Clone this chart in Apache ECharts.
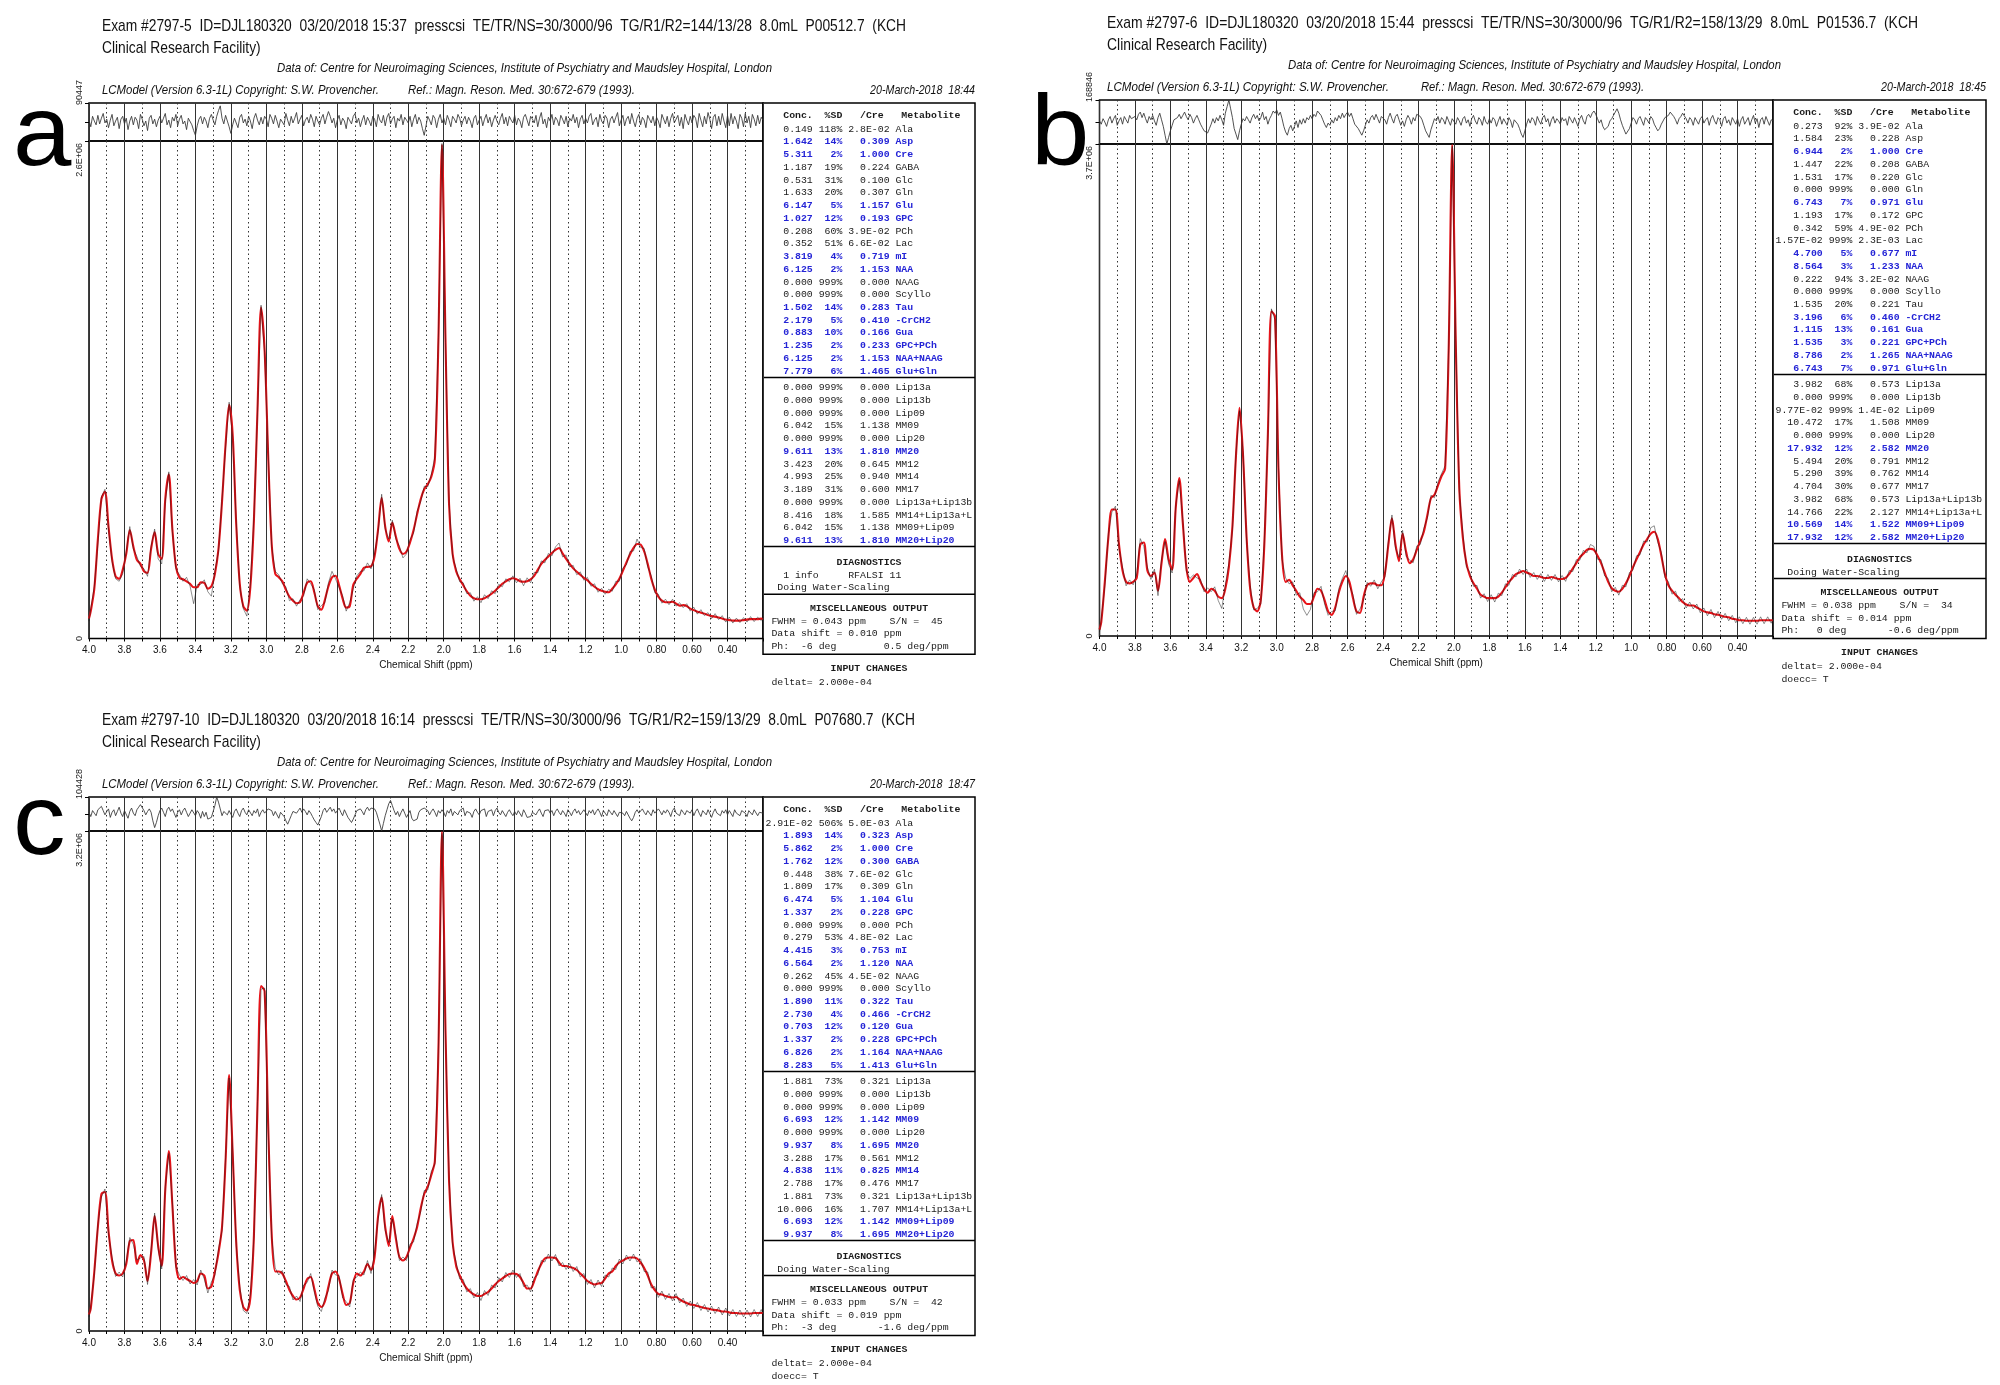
<!DOCTYPE html>
<html><head><meta charset="utf-8">
<script src="https://cdn.jsdelivr.net/npm/echarts@6/dist/echarts.min.js"></script>
<style>html,body{margin:0;padding:0;background:#fff}#c{width:2000px;height:1385px}</style>
</head><body><div id="c"></div>
<script>
// ---------- sampling grids (ppm) ----------
const ppmGrid = (function(){ const a=[4.00]; for(let i=0;i<190;i++) a.push(+(3.99-0.02*i).toFixed(2)); a.push(0.20); return a; })();
const ppmResid = (function(){ const a=[]; for(let i=0;i<=380;i++) a.push(+(4.00-0.01*i).toFixed(2)); return a; })();
const xTickLabels = ['4.0','3.8','3.6','3.4','3.2','3.0','2.8','2.6','2.4','2.2','2.0','1.8','1.6','1.4','1.2','1.0','0.80','0.60','0.40'];

// ---------- spectra, % of full scale (a: 2.6E+06, b: 3.7E+06, c: 3.2E+06) ----------
const fitA = [
4,5.5,10,20,28,29.5,22.5,16,12.5,12,
13.8,17,21.8,18.5,15.8,15,13.5,13.2,18,21.4,
17,16,28,33,22,14.5,12.2,11.9,11.5,11,
10.3,10.3,11.3,11.2,10,10.5,13,18,27.5,39,
47,41,23,11,6.5,5.6,10.5,24,46,66.5,
58,37,19,13,12.3,11.5,9.8,8.4,7.6,7.1,
7.3,9.2,11.2,11.5,9.3,6.5,5.8,7.8,10.5,12.3,
12.6,10.7,8,6.2,6.5,10.8,12,13,14.2,14.4,
14.5,16.5,22,28.3,22.5,19.5,23.3,20.5,18,17,
17.5,19.3,21.8,25,28,30,31,32.5,36,60,
99.2,60,27,17,13.5,11.9,10.7,9.5,8.6,8.1,
7.9,7.9,8.1,8.5,9,9.6,10.3,11,11.5,11.9,
12.1,11.9,11.5,11.4,11.5,11.9,12.6,13.8,15,15.8,
16.5,17.2,17.8,18.2,17.1,16,15,14.1,13.4,12.8,
12.2,11.7,11,10.4,9.9,9.6,9.4,9.3,10,10.9,
12,13.6,15.3,16.9,18.2,19,18.9,17.5,15,12,
9.8,8.4,7.6,7.3,7.3,7.4,7,6.6,6.7,6.5,
6,5.7,5.4,5.2,5,4.7,4.5,4.4,4.2,4,
3.8,3.7,3.6,3.6,3.6,3.7,3.8,3.9,3.9,3.9,
4,3.9];
const dataA = [
3.5,6,10.5,19,28.5,30,22,15.5,12,11.5,
13,17.5,22.5,18,16.5,14.5,14,12.5,18.5,22,
16,15,27.5,33.5,21.5,14,12.8,11.5,12.3,10.5,
7,10.8,10.9,11.8,9.4,8.5,13.6,17.5,28,38.5,
47.5,40.5,23.5,10.5,6,4.5,11,24.5,45.5,67,
57.5,37.5,18.5,13.5,12.8,11,10.4,7.6,8,6.5,
7.8,8.6,12,11,9.8,5.8,6.6,7.2,11.2,13.5,
12,10.2,8.6,5.5,7.2,10,12.6,13.5,13.6,15.2,
14,17,21.5,29,22,20,23.8,20,18.6,16.2,
17,19.9,21.2,25.6,27.5,30.6,30.5,33,36.5,60.5,
99.5,59.5,27.5,16.5,14,11.4,11.2,9,9.2,7.5,
8.4,7.2,8.8,8,9.6,9,10.9,10.4,12,11.4,
12.6,11.2,12.1,10.6,12.2,11.2,13.3,13.2,15.6,15.2,
17.1,16.6,18.4,19.2,16.4,16.8,14.4,14.7,12.8,13.4,
11.7,12.3,10.5,11,9.3,10.1,8.9,9.9,9.5,11.5,
11.5,14.2,14.8,17.5,17.6,20,18.3,18.1,14.4,12.6,
9.2,8.9,7.1,7.9,6.8,7.9,6.5,7.2,6.2,7,
5.5,6.3,4.9,5.8,4.6,5.2,4,5,3.8,4.6,
3.3,4.3,3.1,4.1,3.2,4.2,3.3,4.4,3.4,4.3,
3.6,4.2];
const fitB = [
1.3,2.8,11,20,25.7,25.7,18.6,13.3,11,10.7,
11,11.8,18.6,19,13.3,12.2,12.9,9.2,14.8,19.7,
15.6,13.5,26,32.1,23,14,11,11.8,12.6,11,
9.6,8.8,9.6,9.2,8,7.7,9.6,14,22.3,36.6,
46.4,36.6,20,9.6,5.8,5,7.3,18.6,41,66,
65,33.6,16.3,11,11.4,10.3,9.2,8,7.3,6.5,
6.5,8,9.6,9.2,7.3,5,4.3,5.8,8.8,11,
12.2,11,7.7,5,4.7,8,10.3,10.7,10.7,10.3,
10.3,12.6,18.6,23.9,18.6,15.2,20.8,17.1,14.8,15.6,
17.5,19.3,21.2,24.6,28,28.7,30.6,32.5,34,58,
99.8,60,30,20,14.8,12.2,10.7,9.6,8.4,8,
7.7,7.7,7.7,8,8.8,9.9,11,11.8,12.6,12.9,
13.2,12.9,12.6,12.2,12.2,12,11.8,11.8,12,11.8,
11.6,11.6,11.8,12.6,13.7,14.8,16,16.7,17.5,17.7,
17.5,16.3,14.8,12.9,11,9.7,9.2,9,9.6,10.7,
12.2,14,15.6,17.1,18.6,19.7,20.8,21.2,19.7,16.3,
12.6,10.3,9.2,8.4,7.7,6.9,6.4,6.2,6.2,5.8,
5.4,5,4.8,4.7,4.4,4.3,4.1,3.9,3.8,3.5,
3.4,3.2,3.2,3.1,3.1,3.1,3.1,3.2,3.2,3.2,
3.2,3.2];
const dataB = [
0.8,3.4,10.2,20.8,25.2,26.4,17.9,13.9,10.2,11.4,
10.4,12.6,19.8,18.2,14,11.5,13.6,8.2,15.6,19.2,
14.6,12.8,26.5,31.6,23.6,13.2,11.7,12.4,11.8,11.5,
9,9.8,9,10,7.2,5.6,10.4,14.8,21.6,37.2,
45.8,37.4,19.3,10.3,5.3,5.6,6.5,19.4,40.4,66.5,
64.3,34.2,15.6,11.8,10.6,11,8.3,8.8,5.5,4.2,
5.4,8.8,9,10.1,6.5,4.2,5,5.1,9.6,11.7,
13.3,10.2,8.4,4.4,5.5,7.3,10.9,10.1,11.4,9.6,
11,12,19.4,24.6,17.8,16,21.5,16.2,15.4,14.9,
18.3,18.6,21.9,24,28.6,28.1,31.3,33,34.6,58.5,
99.5,60.5,29.4,20.8,14.1,12.9,10.1,10.3,7.7,8.6,
7,8.4,6.9,8.7,8.2,10.6,10.3,12.5,12,13.6,
12.5,13.6,11.9,12.9,11.5,12.7,11.1,12.5,11.3,12.5,
11,12.3,11.1,13.3,13.1,15.5,15.4,17.4,16.9,18.6,
18.2,15.6,15.5,12.2,11.7,9,9.9,8.3,10.3,10,
12.9,13.4,16.3,16.5,19.3,19.1,22,22.4,19,17,
11.9,11,8.5,9.1,7,7.6,5.7,6.9,5.5,6.5,
4.7,5.7,4.1,5.4,3.7,5,3.4,4.6,3.1,4.2,
2.7,3.9,2.5,3.8,2.4,3.8,2.4,3.9,2.5,3.9,
2.6,3.7];
const fitC = [
3.3,4.5,11.9,20.8,27.4,27.8,20,14.1,11.5,11.1,
11.5,13.4,18,18.2,13.4,15.2,14.1,10,15.6,23,
17,13,28.2,36,25.2,13.4,10.4,10.8,10.4,10,
9.6,10,11.5,11.1,8.5,8.9,11.9,15.6,20.8,34.1,
51.2,35.6,17.8,8.2,4.8,4.1,6.7,19.3,45.3,69,
68,41.5,19.3,11.9,11.9,11.5,10,8.2,7,6.3,
6.7,8.5,10.4,10.8,8.5,5.6,4.8,5.9,8.9,11.5,
11.9,10.4,7.4,5.2,5.6,9.6,11.5,11.1,11.9,13.4,
12.2,14.8,23,26.7,20.8,17,23,18.5,14.8,14.1,
14.8,16.7,18.5,20.8,24.5,27.4,28.9,31.2,34,56,
99.8,60,30,17.8,13,11.1,9.6,8.5,7.8,7.3,
7,7,7.4,7.8,8.5,9.3,10,10.5,11,11.4,
11.5,11.4,10.8,9.6,8.5,8.5,10,11.9,13.4,14.5,
14.7,14.7,14.6,13.7,13,13,12.8,12.6,12.2,11.5,
10.8,10,9.6,9.3,9.5,9.6,10.5,11.5,11.9,13,
13.7,14.1,14.5,14.7,14.7,14.5,13.7,12.6,11.1,9.3,
8.2,7.4,7.3,7,6.8,6.7,6.8,6.3,5.9,5.6,
5.3,5.2,5,4.8,4.6,4.5,4.3,4.2,4.1,3.9,
3.9,3.7,3.6,3.6,3.5,3.5,3.5,3.5,3.6,3.6,
3.6,3.6];
const dataC = [
2.8,5,11.4,21.3,26.8,28.4,19.4,14.7,10.9,11.8,
10.8,14,18.7,17.3,14.2,14.6,14.9,9.3,16.2,23.6,
16.4,12.4,28.9,35.5,25.8,12.8,11.2,10.1,11.1,9.4,
10.3,9.2,12.2,10.4,7.6,9.8,11.2,16.4,20.1,34.7,
50.6,36.2,17.1,8.9,4.1,3.5,7.4,18.7,45.9,68.4,
68.6,40.9,18.6,12.6,11.2,12.1,9.3,8.9,6.2,7,
5.9,9.2,9.7,11.5,7.8,4.9,3.9,6.6,8.1,12.2,
11.2,11.1,6.6,5.9,4.8,10.3,10.8,11.8,11.2,14.1,
11.5,15.5,22.4,27.3,20.1,17.7,22.4,19.2,14.1,14.8,
14.1,17.4,17.8,21.5,23.8,28.1,28.2,31.9,33.4,56.6,
99.5,59.4,30.6,17.1,13.7,10.4,10.3,7.8,8.5,6.6,
7.7,6.1,8.1,7.1,9.2,8.6,10.7,9.8,11.7,10.7,
12.2,10.7,11.5,8.9,9.2,7.8,10.7,11.2,14.1,13.8,
15.4,14,15.3,13,13.7,12.3,13.5,11.9,12.9,10.8,
11.5,9.3,10.3,8.6,10.2,8.9,11.2,10.8,12.6,12.3,
14.4,13.4,15.2,14,15.4,13.8,14.4,11.9,11.8,8.6,
8.9,6.7,8,6.3,7.5,6,7.5,5.6,6.6,4.9,
6,4.5,5.7,4.1,5.3,3.8,5,3.5,4.8,3.2,
4.6,3,4.3,2.9,4.2,2.8,4.2,2.8,4.3,2.9,
4.3,3.2];

// ---------- residuals, % of residual range (0.01 ppm steps, 4.00 -> 0.20) ----------
const residA = [
10,-25,30,5,-15,35,-10,20,45,-5,15,-30,10,40,-20,5,25,-35,15,30,
-10,20,-40,5,30,-15,25,10,-35,40,15,-20,5,-45,20,35,-10,15,-25,10,
30,-5,20,45,-15,10,-30,25,5,40,-20,15,35,-10,5,-40,20,30,-15,-45,
-70,-20,15,30,-10,25,5,-30,20,40,10,-15,30,60,85,20,-10,35,5,-25,
-60,-15,20,10,-30,25,40,-5,15,-20,30,5,-35,20,45,10,-15,25,-10,30,
15,-25,40,20,-10,35,5,-30,15,25,-15,45,10,-20,30,-5,20,50,-10,15,
35,-20,10,25,-5,40,15,-25,30,5,-15,20,40,-10,25,55,30,-5,20,-30,
10,35,-15,20,5,-35,25,15,-10,30,45,-5,20,-25,10,35,-15,25,5,-20,
30,15,-25,40,10,-5,35,-20,25,45,-10,15,30,-30,20,5,40,-15,25,10,
-5,30,-25,15,40,-10,25,5,-35,-70,-20,30,10,-15,35,20,-30,15,40,-5,
20,-15,35,10,-25,30,15,-5,40,20,-20,10,30,-10,25,5,-30,20,35,-15,
10,30,-20,15,40,-5,25,-25,10,35,5,-15,20,45,-10,25,-20,30,10,-5,
35,-15,20,5,-30,25,40,10,-20,30,15,-5,35,-25,20,50,-10,15,-30,25,
5,40,-15,25,10,-20,35,15,-10,30,-25,20,5,40,-5,25,-30,15,35,-10,
20,-5,30,45,-15,10,25,-25,40,5,-10,35,20,-30,15,30,-5,25,50,-20,
10,35,-20,15,30,-10,45,5,-25,20,40,-15,25,10,-30,35,15,-5,30,-20,
25,5,-30,40,15,-10,30,-25,20,45,-5,15,35,-20,25,-35,40,10,-15,30,
-5,35,20,-30,45,10,-25,30,-10,50,15,-35,25,40,-20,30,-15,45,5,-30,
35,-20,45,-10,30,5,-35,40,20,-25,45,-5,30,-30,40,15,-20,35,-10,25,
10];
const residB = [
5,-10,15,0,-20,10,25,-5,15,30,-15,5,20,-10,25,10,-5,30,15,20,
25,10,35,45,20,40,15,-5,25,10,30,5,-15,20,40,10,-20,-60,-100,-70,
-40,-15,10,5,20,35,15,30,45,25,10,35,20,-5,15,30,10,-10,-25,-40,
-35,-50,-30,-10,15,-5,20,5,30,10,-15,40,70,100,60,20,-30,-55,-80,-40,
-10,15,5,25,10,-5,20,35,15,30,5,20,45,10,25,-10,15,30,50,40,
55,30,45,15,-20,-45,-60,-30,-15,-40,-20,5,-25,10,-10,15,-5,20,10,30,
15,35,25,50,55,30,10,-10,-25,-5,-15,10,-5,20,5,30,15,40,20,35,
45,25,40,15,-10,-5,-30,-45,-60,-40,-15,10,-5,20,30,10,35,15,-5,25,
30,10,-10,20,40,15,-5,25,35,10,-15,5,-20,10,30,15,-10,20,5,35,
40,25,10,-15,-40,-55,-70,-35,-10,15,5,25,-5,20,10,-10,25,5,-15,15,
10,-10,20,5,-15,15,25,-5,10,-20,15,30,5,-10,20,10,-15,25,0,-10,
15,-5,20,10,-20,5,25,-10,15,0,-15,20,5,-25,10,15,-10,-30,-55,-70,
-40,-10,15,-5,20,10,-15,25,5,-10,20,30,0,15,-20,10,25,-5,15,5,
-10,20,5,15,-15,25,10,-5,20,0,-20,15,30,5,-10,25,35,20,40,50,
35,15,-5,10,-20,-35,-40,-20,5,15,30,45,60,40,10,-15,-35,-55,-60,-30,
-5,20,10,-10,15,25,5,-15,20,10,-5,25,15,-10,-25,-40,-30,-10,5,20,
15,30,45,50,25,10,-10,15,25,40,35,15,-5,20,10,-15,20,5,-10,15,
25,-5,10,20,-15,15,30,5,-10,20,10,-20,15,25,-5,10,-15,20,5,-10,
15,-20,10,25,-10,5,20,-15,10,30,-5,15,-25,10,20,-10,25,5,-15,10,
5];
const residC = [
10,-15,20,5,-10,25,35,45,20,-5,15,30,-20,10,25,-10,15,40,5,-15,
20,10,-25,15,35,5,-10,25,40,55,45,20,-5,15,30,10,-40,-80,-50,-10,
20,35,10,-15,25,40,15,30,5,-20,10,25,-5,20,35,10,-15,5,25,15,
-10,20,5,-25,15,-15,10,-30,-40,-20,15,50,100,70,30,-10,15,25,-5,20,
10,-20,15,30,5,-15,20,35,10,-5,25,15,-10,20,5,30,-15,10,25,5,
15,30,40,20,-10,15,5,-25,10,20,-15,-40,-60,-35,-10,15,25,5,20,35,
10,30,15,-5,20,5,-15,-35,-50,-65,-40,-15,20,35,10,25,40,15,30,5,
20,35,10,-10,25,15,-20,-35,-50,-30,-5,20,10,30,15,-5,25,40,20,35,
45,30,10,-25,-60,-100,-55,-10,25,60,80,50,20,-5,15,-15,10,30,5,-20,
-10,20,-25,-40,-50,-30,10,25,15,35,40,20,-5,15,30,10,-15,20,5,25,
10,-15,20,5,30,-10,15,25,-5,20,10,35,-10,15,25,5,-20,15,30,10,
-5,20,10,30,-15,15,5,25,-10,20,35,10,-5,20,15,-15,10,25,5,-10,
15,-5,20,10,-15,25,5,-20,-30,-15,10,20,-5,15,30,5,-15,20,10,25,
5,20,-10,15,30,10,-5,20,5,-15,25,10,-10,15,30,5,20,-5,10,25,
15,-10,20,5,25,-5,15,30,10,-15,20,5,-10,25,10,-5,20,15,-15,10,
20,5,-10,15,-5,-25,-40,-20,10,25,5,15,30,10,-5,20,15,-10,25,5,
10,30,15,-5,20,5,25,10,-15,20,35,5,15,-10,25,10,-5,20,15,5,
25,-10,15,30,5,-15,20,10,-5,25,15,-20,10,30,5,15,-10,20,5,25,
-5,20,10,-15,25,5,15,-10,20,30,5,-15,20,10,-5,25,15,-10,10,20,
5];

// ---------- LCModel tables ----------
const metNames = ['Ala','Asp','Cre','GABA','Glc','Gln','Glu','GPC','PCh','Lac','mI','NAA','NAAG','Scyllo','Tau','-CrCH2','Gua','GPC+PCh','NAA+NAAG','Glu+Gln'];
const lipNames = ['Lip13a','Lip13b','Lip09','MM09','Lip20','MM20','MM12','MM14','MM17','Lip13a+Lip13b','MM14+Lip13a+L','MM09+Lip09','MM20+Lip20'];
const concA = ['0.149','1.642','5.311','1.187','0.531','1.633','6.147','1.027','0.208','0.352','3.819','6.125','0.000','0.000','1.502','2.179','0.883','1.235','6.125','7.779',
  '0.000','0.000','0.000','6.042','0.000','9.611','3.423','4.993','3.189','0.000','8.416','6.042','9.611'];
const sdA = ['118%','14%','2%','19%','31%','20%','5%','12%','60%','51%','4%','2%','999%','999%','14%','5%','10%','2%','2%','6%',
  '999%','999%','999%','15%','999%','13%','20%','25%','31%','999%','18%','15%','13%'];
const creA = ['2.8E-02','0.309','1.000','0.224','0.100','0.307','1.157','0.193','3.9E-02','6.6E-02','0.719','1.153','0.000','0.000','0.283','0.410','0.166','0.233','1.153','1.465',
  '0.000','0.000','0.000','1.138','0.000','1.810','0.645','0.940','0.600','0.000','1.585','1.138','1.810'];
const concB = ['0.273','1.584','6.944','1.447','1.531','0.000','6.743','1.193','0.342','1.57E-02','4.700','8.564','0.222','0.000','1.535','3.196','1.115','1.535','8.786','6.743',
  '3.982','0.000','9.77E-02','10.472','0.000','17.932','5.494','5.290','4.704','3.982','14.766','10.569','17.932'];
const sdB = ['92%','23%','2%','22%','17%','999%','7%','17%','59%','999%','5%','3%','94%','999%','20%','6%','13%','3%','2%','7%',
  '68%','999%','999%','17%','999%','12%','20%','39%','30%','68%','22%','14%','12%'];
const creB = ['3.9E-02','0.228','1.000','0.208','0.220','0.000','0.971','0.172','4.9E-02','2.3E-03','0.677','1.233','3.2E-02','0.000','0.221','0.460','0.161','0.221','1.265','0.971',
  '0.573','0.000','1.4E-02','1.508','0.000','2.582','0.791','0.762','0.677','0.573','2.127','1.522','2.582'];
const concC = ['2.91E-02','1.893','5.862','1.762','0.448','1.809','6.474','1.337','0.000','0.279','4.415','6.564','0.262','0.000','1.890','2.730','0.703','1.337','6.826','8.283',
  '1.881','0.000','0.000','6.693','0.000','9.937','3.288','4.838','2.788','1.881','10.006','6.693','9.937'];
const sdC = ['506%','14%','2%','12%','38%','17%','5%','2%','999%','53%','3%','2%','45%','999%','11%','4%','12%','2%','2%','5%',
  '73%','999%','999%','12%','999%','8%','17%','11%','17%','73%','16%','12%','8%'];
const creC = ['5.0E-03','0.323','1.000','0.300','7.6E-02','0.309','1.104','0.228','0.000','4.8E-02','0.753','1.120','4.5E-02','0.000','0.322','0.466','0.120','0.228','1.164','1.413',
  '0.321','0.000','0.000','1.142','0.000','1.695','0.561','0.825','0.476','0.321','1.707','1.142','1.695'];

const headA = 'Exam #2797-5  ID=DJL180320  03/20/2018 15:37  presscsi  TE/TR/NS=30/3000/96  TG/R1/R2=144/13/28  8.0mL  P00512.7  (KCH';
const headB = 'Exam #2797-6  ID=DJL180320  03/20/2018 15:44  presscsi  TE/TR/NS=30/3000/96  TG/R1/R2=158/13/29  8.0mL  P01536.7  (KCH';
const headC = 'Exam #2797-10  ID=DJL180320  03/20/2018 16:14  presscsi  TE/TR/NS=30/3000/96  TG/R1/R2=159/13/29  8.0mL  P07680.7  (KCH';
const head2 = 'Clinical Research Facility)';
const dataOf = 'Data of: Centre for Neuroimaging Sciences, Institute of Psychiatry and Maudsley Hospital, London';
const lcmText = 'LCModel (Version 6.3-1L) Copyright: S.W. Provencher.';
const refText = 'Ref.: Magn. Reson. Med. 30:672-679 (1993).';

// ---------- panel layout ----------
const panels = [
 {letter:'a', head:headA, date:'20-March-2018  18:44', fit:fitA, dat:dataA, res:residA, yTop:'2.6E+06', rTop:'90447',
  conc:concA, sd:sdA, cre:creA,
  diag:['   1 info     RFALSI 11','  Doing Water-Scaling'],
  misc:[' FWHM = 0.043 ppm    S/N =  45',' Data shift = 0.010 ppm',' Ph:  -6 deg        0.5 deg/ppm'],
  input:[' deltat= 2.000e-04'],
  L:89, R:763, rT:103, mT:141, B:638.5, tR:975, tT:103,
  hy:[26,48,68,90], l1:[102,906], l2x:102, d:[277,772], m:[102,379], r:[408,635], lx:13, ly:137},
 {letter:'b', head:headB, date:'20-March-2018  18:45', fit:fitB, dat:dataB, res:residB, yTop:'3.7E+06', rTop:'168846',
  conc:concB, sd:sdB, cre:creB,
  diag:['  Doing Water-Scaling'],
  misc:[' FWHM = 0.038 ppm    S/N =  34',' Data shift = 0.014 ppm',' Ph:   0 deg       -0.6 deg/ppm'],
  input:[' deltat= 2.000e-04',' doecc= T'],
  L:1099.5, R:1773, rT:100, mT:144, B:636, tR:1986, tT:100,
  hy:[23,45,65,87], l1:[1107,1918], l2x:1107, d:[1288,1781], m:[1107,1389], r:[1421,1644], lx:1031, ly:137},
 {letter:'c', head:headC, date:'20-March-2018  18:47', fit:fitC, dat:dataC, res:residC, yTop:'3.2E+06', rTop:'104428',
  conc:concC, sd:sdC, cre:creC,
  diag:['  Doing Water-Scaling'],
  misc:[' FWHM = 0.033 ppm    S/N =  42',' Data shift = 0.019 ppm',' Ph:  -3 deg       -1.6 deg/ppm'],
  input:[' deltat= 2.000e-04',' doecc= T'],
  L:89, R:763, rT:797, mT:831, B:1331, tR:975, tT:797,
  hy:[720,742,762,784], l1:[102,915], l2x:102, d:[277,772], m:[102,379], r:[408,635], lx:13, ly:826}
];

const SANS = '"Liberation Sans", Arial, sans-serif';
const MONO = '"Liberation Mono", "DejaVu Sans Mono", monospace';
const MONO_PX = 9.85;
const BLUE = '#2424d6', INK = '#1a1a1a';
const mctx = document.createElement('canvas').getContext('2d');
function measure(t, f){ mctx.font = f; return mctx.measureText(t).width; }
function padL(s,n){ s=String(s); while(s.length<n) s=' '+s; return s; }
function T(x,y,text,font,fill,align,extra,valign){
  const va = valign || 'middle';
  return Object.assign({type:'text', x:x, y:y, silent:true,
    style:{text:text, font:font, fill:fill||INK, textAlign:align||'left', align:align||'left', textVerticalAlign:va, verticalAlign:va}}, extra||{});
}
function Lh(x1,x2,y){ return {type:'line', silent:true, shape:{x1:x1,y1:y,x2:x2,y2:y}, style:{stroke:'#000', lineWidth:1.5}}; }

const graphics = [];
const grids = [], xAxes = [], yAxes = [], series = [];

panels.forEach(function(p, i){
  // header texts
  const HF = '17px ' + SANS, IF = 'italic 13px ' + SANS;
  const s1 = (p.l1[1]-p.l1[0]) / measure(p.head, HF);
  graphics.push(T(p.l1[0], p.hy[0], p.head, HF, '#111', 'left', {scaleX:s1}));
  graphics.push(T(p.l2x, p.hy[1], head2, HF, '#111', 'left', {scaleX:s1}));
  graphics.push(T(p.d[0], p.hy[2], dataOf, IF, '#111', 'left', {scaleX:(p.d[1]-p.d[0])/measure(dataOf, IF)}));
  graphics.push(T(p.m[0], p.hy[3], lcmText, IF, '#111', 'left', {scaleX:(p.m[1]-p.m[0])/measure(lcmText, IF)}));
  graphics.push(T(p.r[0], p.hy[3], refText, IF, '#111', 'left', {scaleX:(p.r[1]-p.r[0])/measure(refText, IF)}));
  graphics.push(T(p.tR, p.hy[3], p.date, IF, '#111', 'right', {scaleX:0.82}));
  graphics.push(T(p.lx, p.ly, p.letter, '100px ' + SANS, '#000', 'left', {scaleX:1.05}));

  // rotated axis-end labels (read bottom-to-top)
  const LF = '9px ' + SANS;
  graphics.push(T(p.L - 5, p.rT + 2, p.rTop, LF, '#222', 'left', {rotation:Math.PI/2}, 'bottom'));
  graphics.push(T(p.L - 5, p.mT + 2, p.yTop, LF, '#222', 'right', {rotation:Math.PI/2}, 'bottom'));
  graphics.push(T(p.L - 5, p.B, '0', LF, '#222', 'center', {rotation:Math.PI/2}, 'bottom'));

  // table
  const tL = p.R, tT = p.tT, cx = (tL + p.tR) / 2, x0 = tL + 2.5;
  const MF = MONO_PX + 'px ' + MONO, MB = 'bold ' + MONO_PX + 'px ' + MONO;
  graphics.push(T(x0, tT + 13, '   Conc.  %SD   /Cre   Metabolite', MB, INK));
  const names = metNames.concat(lipNames);
  for (let k = 0; k < names.length; k++) {
    const y = k < 20 ? tT + 26 + k * 12.75 : tT + 284.5 + (k - 20) * 12.75;
    const blue = parseInt(p.sd[k], 10) < 15;
    const line = padL(p.conc[k], 8) + ' ' + padL(p.sd[k], 4) + ' ' + padL(p.cre[k], 7) + ' ' + names[k];
    graphics.push(T(x0, y, line, blue ? MB : MF, blue ? BLUE : INK));
  }
  const sep1 = tT + 274.5, sep2 = tT + 443.5;
  graphics.push(T(cx, tT + 459.5, 'DIAGNOSTICS', MB, INK, 'center'));
  p.diag.forEach(function(s, k){ graphics.push(T(x0, tT + 472 + k * 12.7, s, MF, INK)); });
  const sep3 = tT + 478.5 + (p.diag.length - 1) * 12.7;
  graphics.push(T(cx, sep3 + 14, 'MISCELLANEOUS OUTPUT', MB, INK, 'center'));
  p.misc.forEach(function(s, k){ graphics.push(T(x0, sep3 + 27 + k * 12.6, s, MF, INK)); });
  const bot = sep3 + 60;
  graphics.push(T(cx, bot + 14.5, 'INPUT CHANGES', MB, INK, 'center'));
  p.input.forEach(function(s, k){ graphics.push(T(x0, bot + 28 + k * 13, s, MF, INK)); });
  graphics.push({type:'rect', silent:true, shape:{x:tL, y:tT, width:p.tR - tL, height:bot - tT}, style:{fill:'none', stroke:'#000', lineWidth:1.5}});
  graphics.push(Lh(tL, p.tR, sep1)); graphics.push(Lh(tL, p.tR, sep2)); graphics.push(Lh(tL, p.tR, sep3));

  // grids: residual (2i) and main (2i+1)
  const W = p.R - p.L;
  grids.push({left:p.L, top:p.rT, width:W, height:p.mT - p.rT, show:true, borderColor:'#000', borderWidth:1.5, backgroundColor:'transparent'});
  grids.push({left:p.L, top:p.mT, width:W, height:p.B - p.mT, show:true, borderColor:'#000', borderWidth:1.5, backgroundColor:'transparent'});
  const baseX = function(gi, main){
    return {gridIndex:gi, type:'value', min:0.2, max:4.0, interval:0.2, inverse:true,
      axisLine:{show:false},
      axisTick:{show:main, length:3, lineStyle:{color:'#000'}},
      minorTick:{show:true, splitNumber:2, length:main ? 3 : 0, lineStyle:{color:'#000'}},
      splitLine:{show:true, lineStyle:{color:'#333', width:1}},
      minorSplitLine:{show:true, lineStyle:{color:'#333', width:1, type:[1.5,3]}},
      axisLabel:{show:main, color:'#111', fontSize:10, fontFamily:SANS, margin:7,
        formatter:function(v){ const k = Math.round((4.0 - v) / 0.2); return (k >= 0 && k < xTickLabels.length) ? xTickLabels[k] : ''; }},
      name: main ? 'Chemical Shift (ppm)' : '', nameLocation:'middle', nameGap:22,
      nameTextStyle:{fontSize:10, color:'#111', fontFamily:SANS}};
  };
  xAxes.push(baseX(2*i, false));
  xAxes.push(baseX(2*i+1, true));
  yAxes.push({gridIndex:2*i, type:'value', min:-100, max:100, interval:100,
    axisLine:{show:false}, splitLine:{show:false},
    axisTick:{show:true, length:4, lineStyle:{color:'#000'}},
    axisLabel:{show:false}});
  yAxes.push({gridIndex:2*i+1, type:'value', min:0, max:100, interval:100,
    axisLine:{show:false}, splitLine:{show:false}, axisTick:{show:false},
    axisLabel:{show:false}});

  const zip = function(xs, ys){ return ys.map(function(v, k){ return [xs[k], v]; }); };
  series.push({type:'line', xAxisIndex:2*i+1, yAxisIndex:2*i+1, data:zip(ppmGrid, p.fit), smooth:0.3, symbol:'none',
    lineStyle:{color:'#e8141a', width:2.1}, z:2, silent:true});
  series.push({type:'line', xAxisIndex:2*i+1, yAxisIndex:2*i+1, data:zip(ppmGrid, p.dat), smooth:false, symbol:'none',
    lineStyle:{color:'#111', width:0.85, opacity:0.55}, z:3, silent:true});
  series.push({type:'line', xAxisIndex:2*i, yAxisIndex:2*i, data:zip(ppmResid, p.res), symbol:'none',
    lineStyle:{color:'#333', width:0.85}, z:3, silent:true});
});

const chart = echarts.init(document.getElementById('c'), null, {renderer:'canvas'});
chart.setOption({
  animation:false, backgroundColor:'#fff',
  textStyle:{fontFamily:SANS},
  grid:grids, xAxis:xAxes, yAxis:yAxes, series:series,
  graphic:{elements:graphics}
});
</script></body></html>
